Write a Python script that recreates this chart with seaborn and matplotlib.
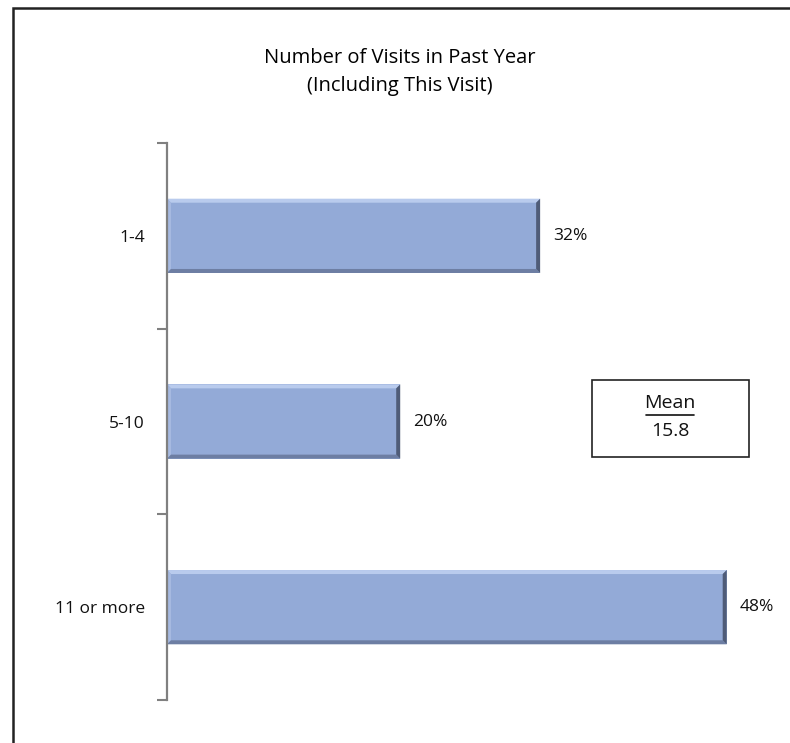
import matplotlib
matplotlib.use("Agg")
import matplotlib.pyplot as plt
import seaborn as sns
import pandas as pd
from matplotlib.patches import Rectangle, Polygon

categories = ["1-4", "5-10", "11 or more"]
values = [0.32, 0.20, 0.48]
value_labels = ["32%", "20%", "48%"]
title_lines = ["Number of Visits in Past Year", "(Including This Visit)"]
mean_label = "Mean"
mean_value = "15.8"

sns.set_theme(style="white")
plt.rcParams['font.family'] = ['Open Sans', 'DejaVu Sans']

fig = plt.figure(figsize=(7.9, 7.43), dpi=100)
W, H = 790, 743
ax = fig.add_axes([167 / W, 1 - 700 / H, (785 - 167) / W, (700 - 143) / H])

df = pd.DataFrame({"cat": categories, "val": values})
sns.barplot(data=df, x="val", y="cat", orient="h", width=0.4,
            color="#93AAD7", saturation=1, edgecolor="none", linewidth=0, ax=ax)

ax.set_xlim(0, 0.53)
ax.set_ylim(2.5, -0.5)
ax.set_xlabel("")
ax.set_ylabel("")
ax.set_xticks([])
for s in ["top", "right", "bottom"]:
    ax.spines[s].set_visible(False)
ax.spines["left"].set_color("#808080")
ax.spines["left"].set_linewidth(1.6)
ax.spines["left"].set_zorder(5)

# bevel effect on each bar (sizes in pixels converted to data units)
px_x = 0.53 / 618.0
px_y = 3.0 / 557.0
b = 4
for p in list(ax.patches):
    x0, y0 = p.get_x(), p.get_y()
    w, h = p.get_width(), p.get_height()
    x1, y1 = x0 + w, y0 + h  # y0 is top (inverted axis), y1 bottom
    bx, by = b * px_x, b * px_y
    # top (light)
    ax.add_patch(Polygon([(x0, y0), (x1, y0), (x1 - bx, y0 + by), (x0 + bx, y0 + by)],
                         closed=True, facecolor="#b9cbed", edgecolor="none", zorder=3))
    # left
    ax.add_patch(Polygon([(x0, y0), (x0 + bx, y0 + by), (x0 + bx, y1 - by), (x0, y1)],
                         closed=True, facecolor="#a6b9e0", edgecolor="none", zorder=3))
    # bottom (darker)
    ax.add_patch(Polygon([(x0, y1), (x0 + bx, y1 - by), (x1 - bx, y1 - by), (x1, y1)],
                         closed=True, facecolor="#6d7ea3", edgecolor="none", zorder=3))
    # right (darkest)
    ax.add_patch(Polygon([(x1, y0), (x1 - bx, y0 + by), (x1 - bx, y1 - by), (x1, y1)],
                         closed=True, facecolor="#4f5c78", edgecolor="none", zorder=3))

ax.set_yticks([-0.5, 0.5, 1.5, 2.5])
ax.set_yticklabels([])
ax.tick_params(axis="y", which="major", length=7, width=1.5, color="#808080", direction="out", left=True)
ax.set_yticks([0, 1, 2], minor=True)
ax.set_yticklabels(categories, minor=True, fontsize=12.5, color="#111111")
ax.tick_params(axis="y", which="minor", length=0, pad=16)

for i, (v, lab) in enumerate(zip(values, value_labels)):
    ax.text(v + 0.011, i, lab, va="center", ha="left", fontsize=12.5, color="#111111")

fig.text(400 / W, 1 - 58 / H, title_lines[0], ha="center", va="center", fontsize=14.5, color="#000000")
fig.text(400 / W, 1 - 86 / H, title_lines[1], ha="center", va="center", fontsize=14.5, color="#000000")

# Mean box
fig.patches.append(Rectangle((592 / W, 1 - 457 / H), (749 - 592) / W, (457 - 380) / H,
                             transform=fig.transFigure, fill=False, edgecolor="#222222", linewidth=1.2))
fig.text(670 / W, 1 - 403 / H, mean_label, ha="center", va="center", fontsize=14, color="#111111")
fig.lines.append(plt.Line2D([646 / W, 694 / W], [1 - 415 / H, 1 - 415 / H],
                            transform=fig.transFigure, color="#111111", linewidth=1.2))
fig.text(670 / W, 1 - 431 / H, mean_value, ha="center", va="center", fontsize=14, color="#111111")

# outer frame
fig.patches.append(Rectangle((13 / W, -0.1), 1.2, 1 - 8 / H + 0.1,
                             transform=fig.transFigure, fill=False, edgecolor="#222222", linewidth=1.8))

fig.savefig("out.png", dpi=100)
